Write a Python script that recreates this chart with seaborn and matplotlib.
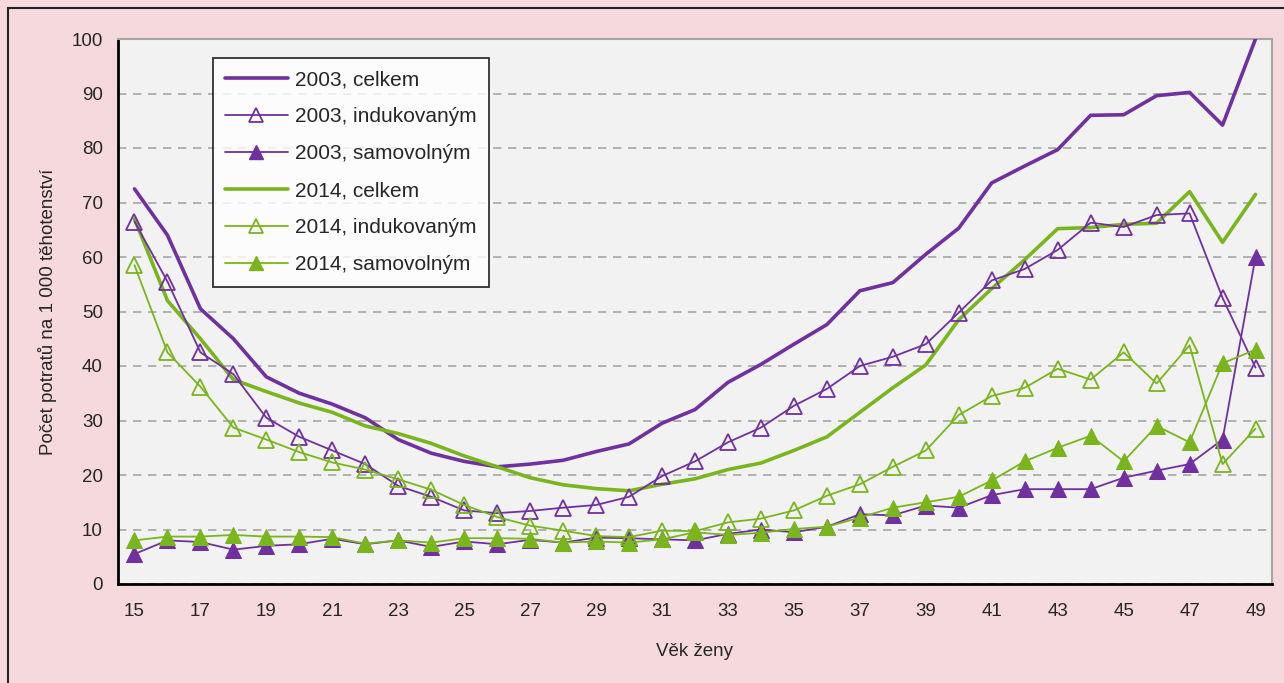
import numpy as np
import pandas as pd
import seaborn as sns
import matplotlib.pyplot as plt
from matplotlib.patches import Rectangle
from matplotlib.lines import Line2D

ages = list(range(15, 50))

celkem_2003 = [72.5, 64, 50.5, 45, 38, 35, 33, 30.5, 26.5, 24, 22.5, 21.5, 22, 22.7, 24.3, 25.7,
               29.5, 32, 37, 40.3, 44, 47.6, 53.8, 55.3, 60.5, 65.3, 73.6, 76.7, 79.7, 86, 86.1,
               89.6, 90.2, 84.2, 100]
indukovanym_2003 = [66.5, 55.5, 42.5, 38.5, 30.5, 27, 24.5, 22, 18, 16, 13.5, 13, 13.4, 14, 14.5, 16,
                    19.8, 22.5, 26, 28.7, 32.7, 35.8, 40, 41.7, 44, 49.8, 55.7, 57.8, 61.3, 66.3,
                    65.5, 67.7, 68, 52.5, 39.7]
samovolnym_2003 = [5.5, 8, 7.7, 6.3, 7, 7.3, 8.3, 7.3, 8, 6.8, 7.8, 7.3, 8.1, 7.6, 8.5, 8.4, 8.2, 8,
                   9.2, 10, 9.5, 10.5, 12.8, 12.6, 14.4, 14, 16.3, 17.4, 17.4, 17.4, 19.5, 20.8, 22,
                   26.5, 60]
celkem_2014 = [67, 52, 45, 37.5, 35.3, 33.2, 31.5, 29, 27.6, 25.8, 23.5, 21.5, 19.5, 18.2, 17.5, 17.1,
               18.3, 19.3, 21, 22.2, 24.5, 27, 31.5, 36, 40.2, 48.5, 54.2, 59.5, 65.2, 65.4, 66,
               66.2, 72, 62.7, 71.5]
indukovanym_2014 = [58.5, 42.5, 36.2, 28.7, 26.5, 24.2, 22.3, 21, 19.2, 17.3, 14.5, 12.3, 10.7, 9.8,
                    8.8, 8.6, 9.8, 9.7, 11.3, 12, 13.5, 16.2, 18.3, 21.5, 24.5, 31, 34.5, 36, 39.5,
                    37.5, 42.5, 36.8, 43.8, 22, 28.5]
samovolnym_2014 = [8, 8.7, 8.7, 9, 8.7, 8.7, 8.6, 7.4, 8, 7.6, 8.4, 8.4, 8.3, 7.6, 7.8, 7.6, 8.2, 9.5,
                   9, 9.4, 10.1, 10.5, 12.2, 14, 15, 16, 19, 22.5, 25, 27.2, 22.5, 29, 26, 40.5, 43]

purple = '#7030A0'
green = '#7AB51D'
pink = '#F5D9DC'

series = [
    ('2003, celkem', celkem_2003, purple, 'total'),
    ('2003, indukovaným', indukovanym_2003, purple, 'open'),
    ('2003, samovolným', samovolnym_2003, purple, 'filled'),
    ('2014, celkem', celkem_2014, green, 'total'),
    ('2014, indukovaným', indukovanym_2014, green, 'open'),
    ('2014, samovolným', samovolnym_2014, green, 'filled'),
]

sns.set_style('white')
plt.rcParams['font.family'] = ['Liberation Sans', 'DejaVu Sans']
fs = 13.5

fig = plt.figure(figsize=(12.84, 6.83), dpi=100)
fig.patch.set_facecolor(pink)
fig.patches.append(Rectangle((8 / 1284, -0.05), 1.1, 1 - 8 / 683 + 0.05, transform=fig.transFigure,
                             fill=False, edgecolor='#222222', linewidth=1.5, zorder=0))
ax = fig.add_axes([118 / 1284, 1 - 584 / 683, (1272 - 118) / 1284, (584 - 39) / 683])
ax.set_facecolor('#F2F2F2')

handles = []
for name, vals, col, kind in series:
    df = pd.DataFrame({'age': ages, 'value': vals})
    if kind == 'total':
        sns.lineplot(data=df, x='age', y='value', color=col, linewidth=2.6, ax=ax, zorder=3)
        h = Line2D([], [], color=col, linewidth=2.6)
    elif kind == 'open':
        sns.lineplot(data=df, x='age', y='value', color=col, linewidth=1.3, marker='^',
                     markersize=11, markerfacecolor='none', markeredgecolor=col,
                     markeredgewidth=1.3, ax=ax, zorder=4)
        h = Line2D([], [], color=col, linewidth=1.3, marker='^', markersize=10,
                   markerfacecolor='none', markeredgecolor=col, markeredgewidth=1.3)
    else:
        sns.lineplot(data=df, x='age', y='value', color=col, linewidth=1.3, marker='^',
                     markersize=11, markerfacecolor=col, markeredgecolor=col, ax=ax, zorder=4)
        h = Line2D([], [], color=col, linewidth=1.3, marker='^', markersize=10,
                   markerfacecolor=col, markeredgecolor=col)
    handles.append((h, name))

ax.set_xlim(14.5, 49.5)
ax.set_ylim(0, 100)
ax.set_yticks(range(0, 101, 10))
ax.set_xticks(range(15, 50, 2))
ax.set_xticks(np.arange(14.5, 50, 1), minor=True)
ax.tick_params(axis='x', which='major', length=0, labelsize=fs, pad=14)
ax.tick_params(axis='x', which='minor', length=6, width=1.5, direction='out', color='black')
ax.tick_params(axis='y', length=6, width=1.5, direction='out', color='black', labelsize=fs, pad=5)
ax.yaxis.grid(True, linestyle=(0, (5, 4)), color='#A6A6A6', linewidth=1.2)
ax.set_axisbelow(True)

for s in ['left', 'bottom']:
    ax.spines[s].set_color('black')
    ax.spines[s].set_linewidth(2)
for s in ['top', 'right']:
    ax.spines[s].set_color('#A6A6A6')
    ax.spines[s].set_linewidth(1.5)

ax.set_xlabel('Věk ženy', fontsize=fs, labelpad=16)
ax.set_ylabel('Počet potratů na 1 000 těhotenství', fontsize=fs, labelpad=10)

leg = ax.legend([h for h, _ in handles], [n for _, n in handles], loc='upper left',
                bbox_to_anchor=(0.082, 0.965), fontsize=15, frameon=True, fancybox=False,
                edgecolor='black', handlelength=3.0, handletextpad=0.35, labelspacing=0.86,
                borderpad=0.6, borderaxespad=0)
leg.get_frame().set_linewidth(1.3)
leg.get_frame().set_facecolor('white')

fig.savefig('out.png', dpi=100, facecolor=fig.get_facecolor())
